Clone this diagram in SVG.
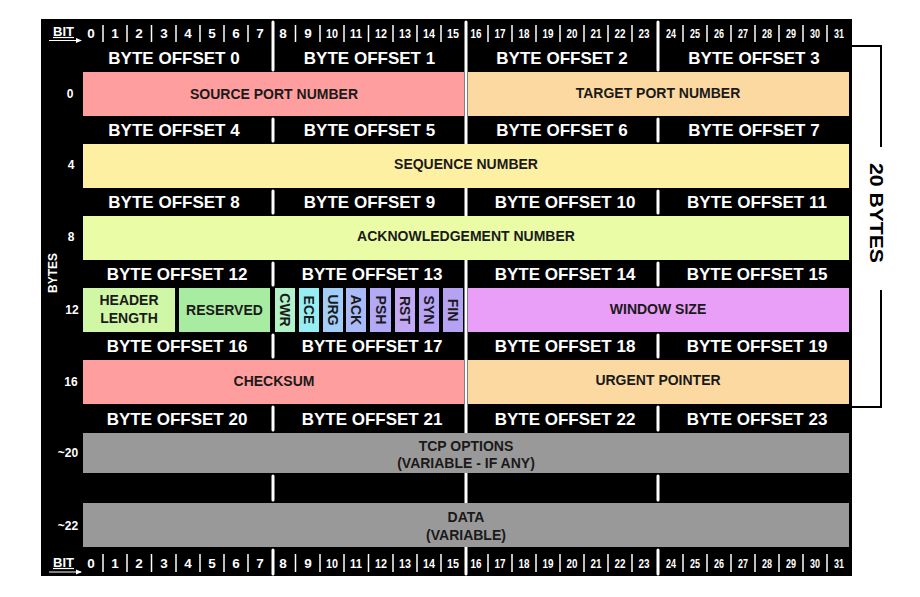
<svg xmlns="http://www.w3.org/2000/svg" width="920" height="597" viewBox="0 0 920 597">
<style>
text{font-family:"Liberation Sans",Arial,sans-serif;font-weight:bold}
.bit{fill:#fff;font-size:13.5px;text-anchor:middle}
.off{fill:#fff;font-size:17px;text-anchor:middle}
.lbl{fill:#fff;font-size:12px;text-anchor:middle}
.fld{fill:#1a1a1a;font-size:14px;text-anchor:middle}
.flag{fill:#1a1a1a;font-size:14px;text-anchor:middle;dominant-baseline:central}
.sep{stroke:#fff;stroke-width:1.5}
.byt{stroke:#fff;stroke-width:3;stroke-linecap:round}
.brk{fill:none;stroke:#000;stroke-width:2}
</style>
<defs>
<marker id="ah" markerWidth="6" markerHeight="6" refX="5" refY="3" orient="auto" markerUnits="userSpaceOnUse"><path d="M0,0.5 L6,3 L0,5.5 Z" fill="#fff"/></marker>
</defs>
<rect width="920" height="597" fill="#fff"/>
<rect id="frame" x="41" y="19" width="811" height="557" fill="#000"/>

<g id="byte-lines">
<line class="byt" x1="466" y1="22" x2="466" y2="574"/>
<line class="byt" x1="273" y1="22" x2="273" y2="70"/>
<line class="byt" x1="658" y1="22" x2="658" y2="70"/>
<line class="byt" x1="273" y1="119" x2="273" y2="141"/>
<line class="byt" x1="658" y1="119" x2="658" y2="141"/>
<line class="byt" x1="273" y1="191" x2="273" y2="213"/>
<line class="byt" x1="658" y1="191" x2="658" y2="213"/>
<line class="byt" x1="273" y1="263" x2="273" y2="285"/>
<line class="byt" x1="658" y1="263" x2="658" y2="285"/>
<line class="byt" x1="273" y1="335" x2="273" y2="357"/>
<line class="byt" x1="658" y1="335" x2="658" y2="357"/>
<line class="byt" x1="273" y1="407" x2="273" y2="430"/>
<line class="byt" x1="658" y1="407" x2="658" y2="430"/>
<line class="byt" x1="273" y1="476" x2="273" y2="500"/>
<line class="byt" x1="658" y1="476" x2="658" y2="500"/>
<line class="byt" x1="273" y1="550" x2="273" y2="574"/>
<line class="byt" x1="658" y1="550" x2="658" y2="574"/>
</g>

<g id="bit-header-top">
<text x="53" y="36" font-size="12" textLength="21" lengthAdjust="spacingAndGlyphs" fill="#fff">BIT</text>
<line x1="53" y1="37.5" x2="74" y2="37.5" stroke="#fff" stroke-width="1.2"/>
<line x1="49" y1="40.5" x2="81" y2="40.5" stroke="#fff" stroke-width="1" marker-end="url(#ah)"/>
<line class="sep" x1="103" y1="25" x2="103" y2="42"/><line class="sep" x1="127" y1="25" x2="127" y2="42"/><line class="sep" x1="151.5" y1="25" x2="151.5" y2="42"/><line class="sep" x1="176" y1="25" x2="176" y2="42"/><line class="sep" x1="200" y1="25" x2="200" y2="42"/><line class="sep" x1="224" y1="25" x2="224" y2="42"/><line class="sep" x1="248" y1="25" x2="248" y2="42"/>
<line class="sep" x1="295.5" y1="25" x2="295.5" y2="42"/><line class="sep" x1="320" y1="25" x2="320" y2="42"/><line class="sep" x1="344" y1="25" x2="344" y2="42"/><line class="sep" x1="368.5" y1="25" x2="368.5" y2="42"/><line class="sep" x1="393" y1="25" x2="393" y2="42"/><line class="sep" x1="417" y1="25" x2="417" y2="42"/><line class="sep" x1="441" y1="25" x2="441" y2="42"/>
<line class="sep" x1="488" y1="25" x2="488" y2="42"/><line class="sep" x1="512" y1="25" x2="512" y2="42"/><line class="sep" x1="536" y1="25" x2="536" y2="42"/><line class="sep" x1="560" y1="25" x2="560" y2="42"/><line class="sep" x1="584" y1="25" x2="584" y2="42"/><line class="sep" x1="608" y1="25" x2="608" y2="42"/><line class="sep" x1="632" y1="25" x2="632" y2="42"/>
<line class="sep" x1="683" y1="25" x2="683" y2="42"/><line class="sep" x1="707" y1="25" x2="707" y2="42"/><line class="sep" x1="731" y1="25" x2="731" y2="42"/><line class="sep" x1="755" y1="25" x2="755" y2="42"/><line class="sep" x1="779" y1="25" x2="779" y2="42"/><line class="sep" x1="803" y1="25" x2="803" y2="42"/><line class="sep" x1="827" y1="25" x2="827" y2="42"/>
<text class="bit" x="91" y="37.5">0</text><text class="bit" x="115" y="37.5">1</text><text class="bit" x="139" y="37.5">2</text><text class="bit" x="164" y="37.5">3</text><text class="bit" x="188" y="37.5">4</text><text class="bit" x="212" y="37.5">5</text><text class="bit" x="236" y="37.5">6</text><text class="bit" x="260" y="37.5">7</text>
<text class="bit" x="283" y="37.5">8</text><text class="bit" x="308" y="37.5">9</text><text class="bit" x="332" y="37.5" textLength="12" lengthAdjust="spacingAndGlyphs">10</text><text class="bit" x="356" y="37.5" textLength="12" lengthAdjust="spacingAndGlyphs">11</text><text class="bit" x="381" y="37.5" textLength="12" lengthAdjust="spacingAndGlyphs">12</text><text class="bit" x="405" y="37.5" textLength="12" lengthAdjust="spacingAndGlyphs">13</text><text class="bit" x="429" y="37.5" textLength="12" lengthAdjust="spacingAndGlyphs">14</text><text class="bit" x="453" y="37.5" textLength="12" lengthAdjust="spacingAndGlyphs">15</text>
<text class="bit" x="476" y="37.5" textLength="11" lengthAdjust="spacingAndGlyphs">16</text><text class="bit" x="500" y="37.5" textLength="11" lengthAdjust="spacingAndGlyphs">17</text><text class="bit" x="524" y="37.5" textLength="11" lengthAdjust="spacingAndGlyphs">18</text><text class="bit" x="548" y="37.5" textLength="11" lengthAdjust="spacingAndGlyphs">19</text><text class="bit" x="572" y="37.5" textLength="11" lengthAdjust="spacingAndGlyphs">20</text><text class="bit" x="596" y="37.5" textLength="11" lengthAdjust="spacingAndGlyphs">21</text><text class="bit" x="620" y="37.5" textLength="11" lengthAdjust="spacingAndGlyphs">22</text><text class="bit" x="644" y="37.5" textLength="11" lengthAdjust="spacingAndGlyphs">23</text>
<text class="bit" x="671" y="37.5" textLength="10" lengthAdjust="spacingAndGlyphs">24</text><text class="bit" x="695" y="37.5" textLength="10" lengthAdjust="spacingAndGlyphs">25</text><text class="bit" x="719" y="37.5" textLength="10" lengthAdjust="spacingAndGlyphs">26</text><text class="bit" x="743" y="37.5" textLength="10" lengthAdjust="spacingAndGlyphs">27</text><text class="bit" x="767" y="37.5" textLength="10" lengthAdjust="spacingAndGlyphs">28</text><text class="bit" x="791" y="37.5" textLength="10" lengthAdjust="spacingAndGlyphs">29</text><text class="bit" x="815" y="37.5" textLength="10" lengthAdjust="spacingAndGlyphs">30</text><text class="bit" x="839" y="37.5" textLength="10" lengthAdjust="spacingAndGlyphs">31</text>
</g>

<g id="bit-header-bottom">
<text x="53" y="567" font-size="12" textLength="21" lengthAdjust="spacingAndGlyphs" fill="#fff">BIT</text>
<line x1="53" y1="568.5" x2="74" y2="568.5" stroke="#fff" stroke-width="1.2"/>
<line x1="49" y1="572" x2="81" y2="572" stroke="#fff" stroke-width="1" marker-end="url(#ah)"/>
<line class="sep" x1="103" y1="554" x2="103" y2="572"/><line class="sep" x1="127" y1="554" x2="127" y2="572"/><line class="sep" x1="151.5" y1="554" x2="151.5" y2="572"/><line class="sep" x1="176" y1="554" x2="176" y2="572"/><line class="sep" x1="200" y1="554" x2="200" y2="572"/><line class="sep" x1="224" y1="554" x2="224" y2="572"/><line class="sep" x1="248" y1="554" x2="248" y2="572"/>
<line class="sep" x1="295.5" y1="554" x2="295.5" y2="572"/><line class="sep" x1="320" y1="554" x2="320" y2="572"/><line class="sep" x1="344" y1="554" x2="344" y2="572"/><line class="sep" x1="368.5" y1="554" x2="368.5" y2="572"/><line class="sep" x1="393" y1="554" x2="393" y2="572"/><line class="sep" x1="417" y1="554" x2="417" y2="572"/><line class="sep" x1="441" y1="554" x2="441" y2="572"/>
<line class="sep" x1="488" y1="554" x2="488" y2="572"/><line class="sep" x1="512" y1="554" x2="512" y2="572"/><line class="sep" x1="536" y1="554" x2="536" y2="572"/><line class="sep" x1="560" y1="554" x2="560" y2="572"/><line class="sep" x1="584" y1="554" x2="584" y2="572"/><line class="sep" x1="608" y1="554" x2="608" y2="572"/><line class="sep" x1="632" y1="554" x2="632" y2="572"/>
<line class="sep" x1="683" y1="554" x2="683" y2="572"/><line class="sep" x1="707" y1="554" x2="707" y2="572"/><line class="sep" x1="731" y1="554" x2="731" y2="572"/><line class="sep" x1="755" y1="554" x2="755" y2="572"/><line class="sep" x1="779" y1="554" x2="779" y2="572"/><line class="sep" x1="803" y1="554" x2="803" y2="572"/><line class="sep" x1="827" y1="554" x2="827" y2="572"/>
<text class="bit" x="91" y="568">0</text><text class="bit" x="115" y="568">1</text><text class="bit" x="139" y="568">2</text><text class="bit" x="164" y="568">3</text><text class="bit" x="188" y="568">4</text><text class="bit" x="212" y="568">5</text><text class="bit" x="236" y="568">6</text><text class="bit" x="260" y="568">7</text>
<text class="bit" x="283" y="568">8</text><text class="bit" x="308" y="568">9</text><text class="bit" x="332" y="568" textLength="12" lengthAdjust="spacingAndGlyphs">10</text><text class="bit" x="356" y="568" textLength="12" lengthAdjust="spacingAndGlyphs">11</text><text class="bit" x="381" y="568" textLength="12" lengthAdjust="spacingAndGlyphs">12</text><text class="bit" x="405" y="568" textLength="12" lengthAdjust="spacingAndGlyphs">13</text><text class="bit" x="429" y="568" textLength="12" lengthAdjust="spacingAndGlyphs">14</text><text class="bit" x="453" y="568" textLength="12" lengthAdjust="spacingAndGlyphs">15</text>
<text class="bit" x="476" y="568" textLength="11" lengthAdjust="spacingAndGlyphs">16</text><text class="bit" x="500" y="568" textLength="11" lengthAdjust="spacingAndGlyphs">17</text><text class="bit" x="524" y="568" textLength="11" lengthAdjust="spacingAndGlyphs">18</text><text class="bit" x="548" y="568" textLength="11" lengthAdjust="spacingAndGlyphs">19</text><text class="bit" x="572" y="568" textLength="11" lengthAdjust="spacingAndGlyphs">20</text><text class="bit" x="596" y="568" textLength="11" lengthAdjust="spacingAndGlyphs">21</text><text class="bit" x="620" y="568" textLength="11" lengthAdjust="spacingAndGlyphs">22</text><text class="bit" x="644" y="568" textLength="11" lengthAdjust="spacingAndGlyphs">23</text>
<text class="bit" x="671" y="568" textLength="10" lengthAdjust="spacingAndGlyphs">24</text><text class="bit" x="695" y="568" textLength="10" lengthAdjust="spacingAndGlyphs">25</text><text class="bit" x="719" y="568" textLength="10" lengthAdjust="spacingAndGlyphs">26</text><text class="bit" x="743" y="568" textLength="10" lengthAdjust="spacingAndGlyphs">27</text><text class="bit" x="767" y="568" textLength="10" lengthAdjust="spacingAndGlyphs">28</text><text class="bit" x="791" y="568" textLength="10" lengthAdjust="spacingAndGlyphs">29</text><text class="bit" x="815" y="568" textLength="10" lengthAdjust="spacingAndGlyphs">30</text><text class="bit" x="839" y="568" textLength="10" lengthAdjust="spacingAndGlyphs">31</text>
</g>

<g id="byte-offsets">
<text class="off" x="174" y="64">BYTE OFFSET 0</text><text class="off" x="369.5" y="64">BYTE OFFSET 1</text><text class="off" x="562" y="64">BYTE OFFSET 2</text><text class="off" x="754" y="64">BYTE OFFSET 3</text>
<text class="off" x="174" y="136">BYTE OFFSET 4</text><text class="off" x="369.5" y="136">BYTE OFFSET 5</text><text class="off" x="562" y="136">BYTE OFFSET 6</text><text class="off" x="754" y="136">BYTE OFFSET 7</text>
<text class="off" x="174" y="208">BYTE OFFSET 8</text><text class="off" x="369.5" y="208">BYTE OFFSET 9</text><text class="off" x="565" y="208">BYTE OFFSET 10</text><text class="off" x="757" y="208">BYTE OFFSET 11</text>
<text class="off" x="177" y="280">BYTE OFFSET 12</text><text class="off" x="372" y="280">BYTE OFFSET 13</text><text class="off" x="565" y="280">BYTE OFFSET 14</text><text class="off" x="757" y="280">BYTE OFFSET 15</text>
<text class="off" x="177" y="352">BYTE OFFSET 16</text><text class="off" x="372" y="352">BYTE OFFSET 17</text><text class="off" x="565" y="352">BYTE OFFSET 18</text><text class="off" x="757" y="352">BYTE OFFSET 19</text>
<text class="off" x="177" y="425">BYTE OFFSET 20</text><text class="off" x="372" y="425">BYTE OFFSET 21</text><text class="off" x="565" y="425">BYTE OFFSET 22</text><text class="off" x="757" y="425">BYTE OFFSET 23</text>
</g>

<g id="row-labels">
<text class="lbl" x="70" y="98">0</text>
<text class="lbl" x="71" y="169">4</text>
<text class="lbl" x="71" y="241">8</text>
<text class="lbl" x="72" y="314">12</text>
<text class="lbl" x="71" y="386">16</text>
<text class="lbl" x="68" y="457">~20</text>
<text class="lbl" x="68" y="530">~22</text>
<text class="lbl" transform="translate(52,273) rotate(-90)" x="0" y="4.5" font-size="13">BYTES</text>
</g>

<g id="source-port"><rect x="83" y="72" width="381" height="44" fill="#ff9e9e"/><text class="fld" x="274" y="99">SOURCE PORT NUMBER</text></g>
<g id="target-port"><rect x="468" y="72" width="381" height="44" fill="#fcd9a1"/><text class="fld" x="658" y="98">TARGET PORT NUMBER</text></g>
<g id="sequence-number"><rect x="83" y="144" width="766" height="44" fill="#fdf0a2"/><text class="fld" x="466" y="169">SEQUENCE NUMBER</text></g>
<g id="ack-number"><rect x="83" y="216" width="766" height="44" fill="#eafca6"/><text class="fld" x="466" y="241">ACKNOWLEDGEMENT NUMBER</text></g>
<g id="header-length"><rect x="83" y="288" width="92" height="44" fill="#cff7a6"/><text class="fld" x="129" y="305">HEADER</text><text class="fld" x="129" y="323">LENGTH</text></g>
<g id="reserved"><rect x="179" y="288" width="91" height="44" fill="#a8eca2"/><text class="fld" x="224.5" y="315">RESERVED</text></g>
<g id="flag-cwr"><rect x="275" y="288" width="20" height="44" fill="#b2f2c8"/><text class="flag" transform="translate(285,310) rotate(90)">CWR</text></g>
<g id="flag-ece"><rect x="299" y="288" width="20" height="44" fill="#96eef2"/><text class="flag" transform="translate(309,310) rotate(90)">ECE</text></g>
<g id="flag-urg"><rect x="323" y="288" width="20" height="44" fill="#a2cdf6"/><text class="flag" transform="translate(333,310) rotate(90)">URG</text></g>
<g id="flag-ack"><rect x="346" y="288" width="20" height="44" fill="#a9baf6"/><text class="flag" transform="translate(356,310) rotate(90)">ACK</text></g>
<g id="flag-psh"><rect x="370" y="288" width="21" height="44" fill="#b2aaf6"/><text class="flag" transform="translate(380.5,310) rotate(90)">PSH</text></g>
<g id="flag-rst"><rect x="395" y="288" width="20" height="44" fill="#c3a8f4"/><text class="flag" transform="translate(405,310) rotate(90)">RST</text></g>
<g id="flag-syn"><rect x="419" y="288" width="20" height="44" fill="#b8a4f6"/><text class="flag" transform="translate(429,310) rotate(90)">SYN</text></g>
<g id="flag-fin"><rect x="443" y="288" width="20" height="44" fill="#b6a2f2"/><text class="flag" transform="translate(453,310) rotate(90)">FIN</text></g>
<g id="window-size"><rect x="468" y="288" width="381" height="44" fill="#e99ff7"/><text class="fld" x="658" y="314">WINDOW SIZE</text></g>
<g id="checksum"><rect x="83" y="360" width="381" height="44" fill="#ff9e9e"/><text class="fld" x="274" y="386">CHECKSUM</text></g>
<g id="urgent-pointer"><rect x="468" y="360" width="381" height="44" fill="#fcd9a1"/><text class="fld" x="658" y="385">URGENT POINTER</text></g>
<g id="tcp-options"><rect x="83" y="433" width="766" height="40" fill="#999999"/><text class="fld" x="466" y="451">TCP OPTIONS</text><text class="fld" x="466" y="468">(VARIABLE - IF ANY)</text></g>
<g id="data"><rect x="83" y="503" width="766" height="44" fill="#999999"/><text class="fld" x="466" y="522">DATA</text><text class="fld" x="466" y="540">(VARIABLE)</text></g>

<g id="connectors">
<polyline class="brk" points="852,46 881,46 881,147"/>
<polyline class="brk" points="881,290 881,407 852,407"/>
</g>
<g id="size-label"><text transform="translate(876,213) rotate(90)" text-anchor="middle" dominant-baseline="central" font-size="18" textLength="100" lengthAdjust="spacingAndGlyphs" fill="#000">20 BYTES</text></g>
</svg>
